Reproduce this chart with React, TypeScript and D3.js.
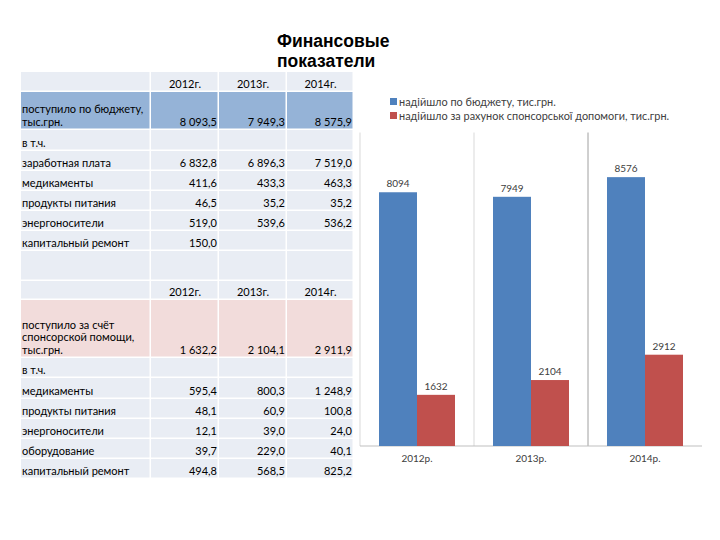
import React from 'react';
import * as d3 from 'd3';

// table data
const tableYears = ['2012г.', '2013г.', '2014г.'];

const budgetTitle = ['поступило по бюджету,', 'тыс.грн.'];
const budgetTotals = [8093.5, 7949.3, 8575.9];
const budgetItems = ['в т.ч.', 'заработная плата', 'медикаменты', 'продукты питания', 'энергоносители', 'капитальный ремонт'];
const budgetValues: (number | null)[][] = [
  [null, null, null],
  [6832.8, 6896.3, 7519.0],
  [411.6, 433.3, 463.3],
  [46.5, 35.2, 35.2],
  [519.0, 539.6, 536.2],
  [150.0, null, null]
];

const sponsorTitle = ['поступило за счёт', 'спонсорской помощи,', 'тыс.грн.'];
const sponsorTotals = [1632.2, 2104.1, 2911.9];
const sponsorItems = ['в т.ч.', 'медикаменты', 'продукты питания', 'энергоносители', 'оборудование', 'капитальный ремонт'];
const sponsorValues: (number | null)[][] = [
  [null, null, null],
  [595.4, 800.3, 1248.9],
  [48.1, 60.9, 100.8],
  [12.1, 39.0, 24.0],
  [39.7, 229.0, 40.1],
  [494.8, 568.5, 825.2]
];

// chart data
const chartYears = ['2012р.', '2013р.', '2014р.'];
const seriesNames = ['надійшло по бюджету, тис.грн.', 'надійшло за рахунок спонсорської допомоги, тис.грн.'];
const budgetSeries = [8094, 7949, 8576];
const sponsorSeries = [1632, 2104, 2912];
const seriesColors = ['#4f81bd', '#c0504d'];

const fmt = d3.formatLocale({ decimal: ',', thousands: '\u00a0', grouping: [3], currency: ['', ''] }).format(',.1f');

const font = 'Lato, "Open Sans", sans-serif';

type Row = { kind: 'header' | 'total' | 'item' | 'empty'; label: string[]; values: (number | null)[]; h: number; fill: string };

const cellFill = '#e9edf4';

const rows: Row[] = [
  { kind: 'header', label: [''], values: [], h: 20, fill: cellFill },
  { kind: 'total', label: budgetTitle, values: budgetTotals, h: 38, fill: '#95b3d7' },
  ...budgetItems.map((l, i) => ({ kind: 'item' as const, label: [l], values: budgetValues[i], h: i === 0 ? 21 : 20, fill: cellFill })),
  { kind: 'empty', label: [''], values: [], h: 30, fill: cellFill },
  { kind: 'header', label: [''], values: [], h: 19, fill: cellFill },
  { kind: 'total', label: sponsorTitle, values: sponsorTotals, h: 58, fill: '#f2dcdb' },
  ...sponsorItems.map((l, i) => ({ kind: 'item' as const, label: [l], values: sponsorValues[i], h: i === 1 ? 21 : 20, fill: cellFill }))
];

const colEdges = [21, 151, 219, 287, 354];

const Table = () => {
  let y = 72;
  return (
    <g fontFamily={font} fontSize={11} fill="#000">
      {rows.map((r, ri) => {
        const top = y;
        y += r.h;
        const bottom = y;
        return (
          <g key={ri}>
            {colEdges.slice(0, -1).map((x0, ci) => (
              <rect key={ci} x={x0} y={top} width={colEdges[ci + 1] - x0 - 1.5} height={r.h - 1.5} fill={r.fill} />
            ))}
            {r.kind === 'header' &&
              tableYears.map((t, ci) => (
                <text key={ci} x={(colEdges[ci + 1] + colEdges[ci + 2]) / 2} y={bottom - 4} textAnchor="middle">{t}</text>
              ))}
            {r.label.map((l, li) => (
              <text key={li} x={22} y={bottom - 4 - (r.label.length - 1 - li) * 12.7}>{l}</text>
            ))}
            {r.values.map((v, ci) =>
              v == null ? null : (
                <text key={ci} x={colEdges[ci + 2] - 2} y={bottom - 4} textAnchor="end">{fmt(v)}</text>
              )
            )}
          </g>
        );
      })}
    </g>
  );
};

const Chart = () => {
  const x = d3.scaleBand<string>().domain(chartYears).range([360, 702]);
  const inner = d3.scaleBand<number>().domain([0, 1]).range([0, 76]);
  const y = d3.scaleLinear().domain([0, 10000]).range([446, 132.5]);
  const series = [budgetSeries, sponsorSeries];
  const sepColors = ['#d9d9d9', '#d9d9d9', '#a0a0a0'];
  return (
    <g fontFamily={font}>
      {chartYears.map((c, i) => (
        <line key={c} x1={x(c)!} x2={x(c)!} y1={y(10000)} y2={y(0)} stroke={sepColors[i]} strokeWidth={1} />
      ))}
      <line x1={360} x2={702} y1={y(0)} y2={y(0)} stroke="#bfbfbf" />
      {series.map((s, si) =>
        s.map((v, i) => {
          const bx = x(chartYears[i])! + (x.bandwidth() - 76) / 2 + inner(si)!;
          return (
            <g key={`${si}-${i}`}>
              <rect x={bx} y={y(v)} width={inner.bandwidth()} height={y(0) - y(v)} fill={seriesColors[si]} />
              <text x={bx + inner.bandwidth() / 2} y={y(v) - 5} textAnchor="middle" fontSize={10} fill="#404040">{v}</text>
            </g>
          );
        })
      )}
      {chartYears.map(c => (
        <text key={c} x={x(c)! + x.bandwidth() / 2} y={462} textAnchor="middle" fontSize={10} fill="#404040">{c}</text>
      ))}
      {seriesNames.map((n, i) => (
        <g key={n}>
          <rect x={390} y={98 + i * 14} width={7} height={7} fill={seriesColors[i]} />
          <text x={399} y={105.5 + i * 14} fontSize={10.9} fill="#404040">{n}</text>
        </g>
      ))}
    </g>
  );
};

export default function App() {
  return (
    <svg width={720} height={540} style={{ position: 'absolute', left: 0, top: 0 }}>
      <rect width={720} height={540} fill="#fff" />
      <text fontFamily='"Liberation Sans", Arial, sans-serif' fontWeight="bold" fontSize={17.5} fill="#000">
        <tspan x={277} y={47}>Финансовые</tspan>
        <tspan x={277} y={67}>показатели</tspan>
      </text>
      <Table />
      <Chart />
    </svg>
  );
}
